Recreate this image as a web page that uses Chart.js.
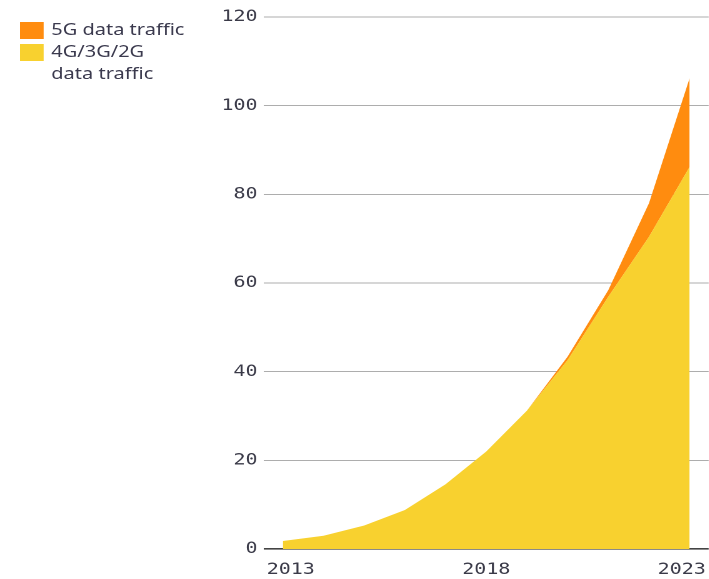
<!DOCTYPE html>
<html>
<head>
<meta charset="utf-8">
<script src="https://cdn.jsdelivr.net/npm/chart.js@4/dist/chart.umd.min.js"></script>
<style>
  html, body { margin: 0; padding: 0; background: #fff; overflow: hidden; }
  /* the original is stretched sideways, so draw narrow and widen */
  #wrap { position: absolute; left: 0; top: 0; width: 567px; height: 579px;
          transform: scaleX(1.25); transform-origin: 0 0; }
  #legend { position: absolute; left: 16px; top: 18px; font-family: "Noto Sans", sans-serif;
            font-size: 16px; color: #3b3a4e; }
  .item { position: relative; padding-left: 25px; line-height: 22px; }
  .box { position: absolute; left: 0; top: 4px; width: 19px; height: 17px; }
  #chart { position: absolute; left: 150px; top: 0; }
</style>
</head>
<body>
<div id="wrap">
  <div id="legend"></div>
  <canvas id="chart" width="417" height="579"></canvas>
</div>
<script>
const years = [2013, 2014, 2015, 2016, 2017, 2018, 2019, 2020, 2021, 2022, 2023];
const traffic4g = [1.8, 3.0, 5.3, 8.8, 14.6, 22.0, 31.2, 42.6, 56.9, 70.4, 86.2];
const traffic5g = [0, 0, 0, 0, 0, 0, 0, 0.8, 1.5, 7.6, 20.0];
const tickYears = [2013, 2018, 2023];
const seriesNames = ['5G data traffic', '4G/3G/2G<br>data traffic'];
const seriesColors = ['#ff8c0f', '#f8d12f'];

document.addEventListener('DOMContentLoaded', () => {
    // legend (orange first, like the picture)
    const legend = document.getElementById('legend');
    seriesNames.forEach((name, i) => {
        const item = document.createElement('div');
        item.className = 'item';
        item.innerHTML = '<span class="box" style="background:' + seriesColors[i] + '"></span>' + name;
        legend.appendChild(item);
    });

    const toPoints = vals => vals.map((v, i) => ({ x: years[i], y: v }));
    const tickFont = { family: 'DejaVu Sans Mono', size: 16 };

    const ctx = document.getElementById('chart').getContext('2d');
    new Chart(ctx, {
        type: 'line',
        data: {
            datasets: [{
                label: '4G/3G/2G data traffic',
                data: toPoints(traffic4g),
                backgroundColor: seriesColors[1],
                fill: 'origin',
                borderWidth: 0,
                pointRadius: 0,
                tension: 0,
            }, {
                label: '5G data traffic',
                data: toPoints(traffic5g),
                backgroundColor: seriesColors[0],
                fill: '-1',
                borderWidth: 0,
                pointRadius: 0,
                tension: 0,
            }],
        },
        options: {
            responsive: false,
            animation: false,
            devicePixelRatio: 2,
            layout: { padding: { top: 17, bottom: 0, left: 0, right: 0 } },
            plugins: { legend: { display: false }, tooltip: { enabled: false } },
            scales: {
                // data axis, not drawn
                x: {
                    type: 'linear',
                    min: 2012.53,
                    max: 2023.47,
                    display: false,
                },
                // label axis: the year labels sit a bit inward in the original
                xLabels: {
                    type: 'linear',
                    position: 'bottom',
                    min: 2012.31,
                    max: 2023.69,
                    afterBuildTicks: scale => { scale.ticks = tickYears.map(v => ({ value: v })); },
                    afterFit: scale => {
                        scale.height = 30;
                        scale.paddingLeft = 0;
                        scale.paddingRight = 0;
                    },
                    grid: { display: false, drawTicks: false },
                    border: { display: false },
                    ticks: {
                        callback: v => String(v),
                        padding: 11,
                        maxRotation: 0,
                        color: '#3a3a48',
                        font: tickFont,
                    },
                },
                y: {
                    stacked: true,
                    min: 0,
                    max: 120,
                    afterFit: scale => {
                        scale.width = 61;
                        scale.paddingTop = 0;
                        scale.paddingBottom = 0;
                    },
                    grid: {
                        drawTicks: false,
                        color: c => c.tick && c.tick.value === 0 ? '#444' : '#adadad',
                        lineWidth: c => c.tick && c.tick.value === 0 ? 1.6 : 1,
                    },
                    border: { display: false },
                    ticks: {
                        stepSize: 20,
                        padding: 5,
                        color: '#3a3a48',
                        font: tickFont,
                    },
                },
            },
        },
    });
});
</script>
</body>
</html>
